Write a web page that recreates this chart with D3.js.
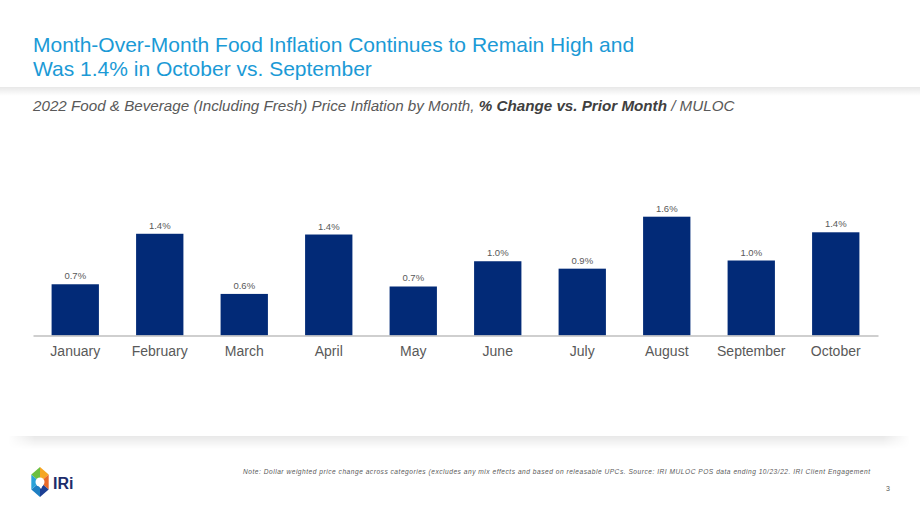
<!DOCTYPE html>
<html>
<head>
<meta charset="utf-8">
<script src="https://cdn.jsdelivr.net/npm/d3@7"></script>
<style>
  body { margin: 0; background: #fff; }
  svg { display: block; font-family: "Liberation Sans", Arial, sans-serif; }
</style>
</head>
<body>
<div id="canvas"></div>
<script>
// Canvas size.
const WIDTH = 920;
const HEIGHT = 518;

// The data.
const months = ["January", "February", "March", "April", "May", "June", "July", "August", "September", "October"];
const changes = [0.69, 1.37, 0.56, 1.36, 0.66, 1.0, 0.9, 1.6, 1.01, 1.39];

const titleLines = ["Month-Over-Month Food Inflation Continues to Remain High and", "Was 1.4% in October vs. September"];
const footNote = "Note: Dollar weighted price change across categories (excludes any mix effects and based on releasable UPCs. Source: IRI MULOC POS data ending 10/23/22. IRI Client Engagement";

const svg = d3.select("#canvas")
    .append("svg")
    .attr("width", WIDTH)
    .attr("height", HEIGHT);

// Shadow gradients (vertical fade, horizontal fade at the ends).
const defs = svg.append("defs");
const vfade = defs.append("linearGradient").attr("id", "vfade")
    .attr("x1", 0).attr("y1", 0).attr("x2", 0).attr("y2", 1);
vfade.append("stop").attr("offset", 0).attr("stop-color", "#000").attr("stop-opacity", 0.09);
vfade.append("stop").attr("offset", 1).attr("stop-color", "#000").attr("stop-opacity", 0);

const hmask = defs.append("linearGradient").attr("id", "hmaskGrad")
    .attr("x1", 0).attr("y1", 0).attr("x2", 1).attr("y2", 0);
hmask.append("stop").attr("offset", 0).attr("stop-color", "#fff").attr("stop-opacity", 0);
hmask.append("stop").attr("offset", 0.03).attr("stop-color", "#fff").attr("stop-opacity", 1);
hmask.append("stop").attr("offset", 0.97).attr("stop-color", "#fff").attr("stop-opacity", 1);
hmask.append("stop").attr("offset", 1).attr("stop-color", "#fff").attr("stop-opacity", 0);
defs.append("mask").attr("id", "hmask").attr("maskContentUnits", "objectBoundingBox")
    .append("rect").attr("width", 1).attr("height", 1).attr("fill", "url(#hmaskGrad)");

svg.append("rect").attr("width", WIDTH).attr("height", HEIGHT).attr("fill", "#fff");

// Header shadow and chart panel shadow
svg.append("rect")
    .attr("x", 0).attr("y", 87).attr("width", WIDTH).attr("height", 9)
    .attr("fill", "url(#vfade)");
svg.append("g").attr("mask", "url(#hmask)")
    .append("rect")
    .attr("x", 8).attr("y", 436).attr("width", 902).attr("height", 13)
    .attr("fill", "url(#vfade)");

// Title
svg.append("g").selectAll("text")
    .data(titleLines)
    .join("text")
    .attr("x", 33)
    .attr("y", (d, i) => 52 + i * 23.5)
    .attr("font-size", 21)
    .attr("fill", "#1b9ad6")
    .text(d => d);

// Subtitle
const sub = svg.append("text")
    .attr("x", 33).attr("y", 111)
    .attr("font-size", 15.2)
    .attr("font-style", "italic")
    .attr("fill", "#595959");
sub.append("tspan").text("2022 Food & Beverage (Including Fresh) Price Inflation by Month, ");
sub.append("tspan").attr("font-weight", "bold").attr("fill", "#404040").text("% Change vs. Prior Month");
sub.append("tspan").text(" / MULOC");

// Scales
const xScale = d3.scaleBand()
    .domain(months)
    .range([33, 878])
    .paddingInner(0.44)
    .paddingOuter(0.22);

const yScale = d3.scaleLinear()
    .domain([0, 1.6])
    .range([335.5, 216.7]);

// Bars
svg.append("g")
    .selectAll("rect")
    .data(changes)
    .join("rect")
    .attr("x", (d, i) => xScale(months[i]))
    .attr("y", d => yScale(d))
    .attr("width", xScale.bandwidth())
    .attr("height", d => yScale(0) - yScale(d))
    .attr("fill", "#022a77");

// Value labels
const fmt = d3.format(".1f");
svg.append("g")
    .selectAll("text")
    .data(changes)
    .join("text")
    .attr("x", (d, i) => xScale(months[i]) + xScale.bandwidth() / 2)
    .attr("y", d => yScale(d) - 5)
    .attr("text-anchor", "middle")
    .attr("font-size", 9.5)
    .attr("fill", "#595959")
    .text(d => fmt(d) + "%");

// X axis
const xAxis = d3.axisBottom(xScale).tickSize(0).tickPadding(11);
const gx = svg.append("g")
    .attr("transform", `translate(0, ${yScale(0)})`)
    .call(xAxis);
gx.select(".domain").attr("stroke", "#bfbfbf").attr("stroke-width", 1.5);
gx.selectAll(".tick text")
    .attr("font-size", 14)
    .attr("font-family", "Liberation Sans, Arial, sans-serif")
    .attr("fill", "#595959");

// Footnote
svg.append("text")
    .attr("x", 243).attr("y", 474)
    .attr("font-size", 6.6)
    .attr("font-style", "italic")
    .attr("fill", "#595959")
    .attr("textLength", 627)
    .text(footNote);

svg.append("text")
    .attr("x", 888).attr("y", 491)
    .attr("font-size", 7)
    .attr("text-anchor", "middle")
    .attr("fill", "#595959")
    .text("3");

// IRi logo: a pointy-top hexagon split into coloured wedges
const logo = svg.append("g").attr("transform", "translate(40, 482)");
const hex = d3.range(6).map(k => {
    const a = Math.PI / 180 * (60 * k - 90);
    return [10 * Math.cos(a), 15 * Math.sin(a)];
});
const segColors = ["#f5a623", "#e8692a", "#1c3f94", "#1e7fc3", "#2aa3d9", "#6cbf3f"];
hex.forEach((p, k) => {
    const q = hex[(k + 1) % 6];
    logo.append("path")
        .attr("d", `M0,0L${p[0]},${p[1]}L${q[0]},${q[1]}Z`)
        .attr("fill", segColors[k]);
});
logo.append("circle").attr("r", 4.5).attr("fill", "#fff");
logo.append("path").attr("d", "M-2,3L3,3L1,7Z").attr("fill", "#fff");

svg.append("text")
    .attr("x", 53).attr("y", 489)
    .attr("font-size", 16)
    .attr("font-weight", "bold")
    .attr("fill", "#1c2d6b")
    .text("IRi");
</script>
</body>
</html>
